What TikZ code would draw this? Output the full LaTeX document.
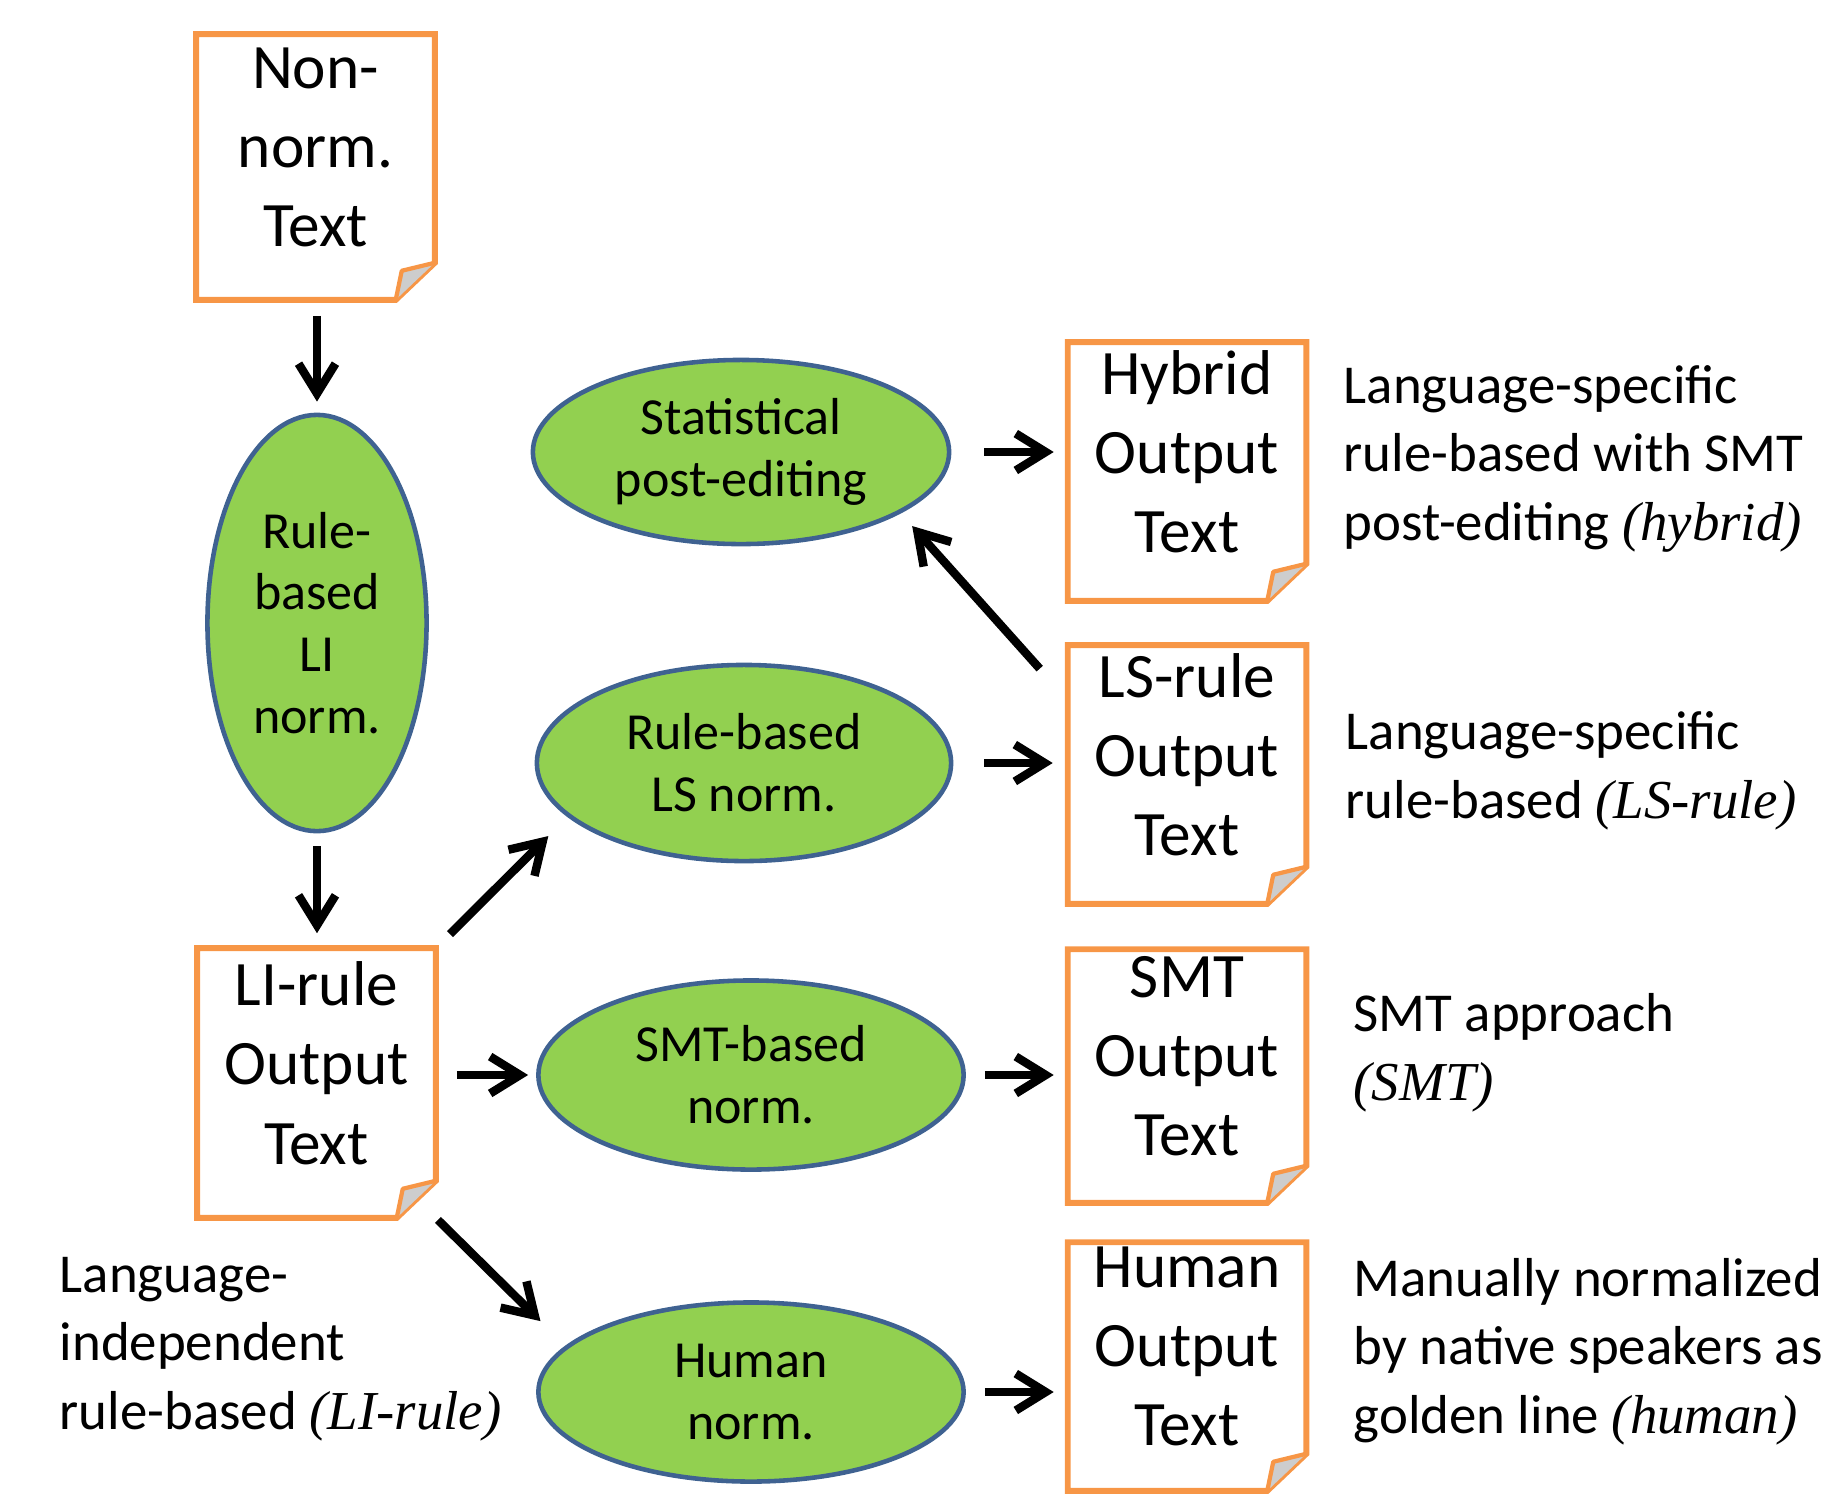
\documentclass[tikz,border=0pt]{standalone}
\usepackage{fontspec}
\setmainfont{Carlito}
\newfontfamily\timesit{Liberation Serif}
\usetikzlibrary{shapes.geometric, arrows.meta}
\definecolor{docorange}{RGB}{247, 150, 70}
\definecolor{normgreen}{RGB}{146, 208, 80}
\definecolor{normblue}{RGB}{63, 98, 145}
\definecolor{foldgray}{RGB}{205, 205, 205}
\tikzset{
  doc/.style={rectangle, minimum width=2.37cm, align=center, inner sep=0pt, text depth=0.4cm, font=\fontsize{18}{22.5}\selectfont},
  normell/.style={ellipse, draw=normblue, line width=1.3pt, fill=normgreen, inner sep=0pt, align=center, font=\fontsize{14.8}{17.6}\selectfont},
  arr/.style={line width=2.4pt, -{Straight Barb[length=8.5pt, width=10.5pt]}},
  note/.style={anchor=base west, align=left, inner sep=0pt, font=\fontsize{15.6}{19.4}\selectfont}
}

\begin{document}
\begin{tikzpicture}[x=0.01cm, y=-0.01cm]
  \useasboundingbox (0, 0) rectangle (1842, 1493);

  \node[doc, minimum height=2.64cm] (nonnorm) at (315.5, 167) {Non-\\norm.\\Text};
  \node[normell, minimum width=2.19cm, minimum height=4.16cm] (rlil) at (317, 623) {Rule-\\based\\LI\\norm.};
  \node[doc, minimum height=2.68cm] (lidoc) at (316.5, 1083) {LI-rule\\Output\\Text};

  \node[normell, minimum width=4.16cm, minimum height=1.84cm] (statpe) at (741, 452) {Statistical\\post-editing};
  \node[normell, minimum width=4.14cm, minimum height=1.96cm] (lsnorm) at (744, 763) {Rule-based\\LS norm.};
  \node[normell, minimum width=4.25cm, minimum height=1.89cm] (smtnorm) at (751, 1075) {SMT-based\\norm.};
  \node[normell, minimum width=4.25cm, minimum height=1.79cm] (humnorm) at (751, 1392) {Human\\norm.};

  \node[doc, minimum height=2.57cm] (hybdoc) at (1187, 471.5) {Hybrid\\Output\\Text};
  \node[doc, minimum height=2.57cm] (lsdoc) at (1187, 774.5) {LS-rule\\Output\\Text};
  \node[doc, minimum height=2.52cm] (smtdoc) at (1187, 1076) {SMT\\Output\\Text};
  \node[doc, minimum height=2.47cm] (humdoc) at (1187, 1366.5) {Human\\Output\\Text};

  \foreach \d in {nonnorm, lidoc, hybdoc, lsdoc, smtdoc, humdoc} {
    \draw[docorange, line width=1.7pt] (\d.north west) -- (\d.north east) -- ([yshift=0.37cm]\d.south east)
      -- ([xshift=-0.39cm]\d.south east) -- (\d.south west) -- cycle;
    \filldraw[fill=foldgray, draw=docorange, line width=1.2pt, line join=round] ([xshift=-0.39cm]\d.south east)
      -- ([xshift=-0.33cm, yshift=0.29cm]\d.south east) -- ([yshift=0.37cm]\d.south east);
  }

  \node[note] (hybnote) at (1343, 540) {Language-specific\\rule-based with SMT\\post-editing {\timesit\itshape (hybrid)}};
  \node[note] (lsnote) at (1345, 818) {Language-specific\\rule-based {\timesit\itshape (LS-rule)}};
  \node[note] (smtnote) at (1353, 1100) {SMT approach\\{\timesit\itshape (SMT)}};
  \node[note] (humnote) at (1353, 1433) {Manually normalized\\by native speakers as\\golden line {\timesit\itshape (human)}};
  \node[note] (linote) at (59, 1429) {Language-\\independent\\rule-based {\timesit\itshape (LI-rule)}};

  \draw[arr, shorten <=0.16cm, shorten >=0.11cm] (rlil.north |- nonnorm.south) -- (rlil.north);
  \draw[arr, shorten <=0.13cm, shorten >=0.15cm] (rlil.south) -- (rlil.south |- lidoc.north);
  \draw[arr, shorten <=0.2cm, shorten >=0.27cm] (lidoc.north east) -- (lsnorm.197);
  \draw[arr, shorten <=0.21cm, shorten >=0.08cm] (lidoc.east |- smtnorm.west) -- (smtnorm.west);
  \draw[arr, shorten <=0.03cm, shorten >=0.35cm] (lidoc.south east) -- (humnorm.166);
  \draw[arr, shorten <=0.33cm, shorten >=0.14cm] (statpe.east) -- (statpe.east -| hybdoc.west);
  \draw[arr, shorten <=0.31cm, shorten >=0.15cm] (lsnorm.east) -- (lsnorm.east -| lsdoc.west);
  \draw[arr, shorten <=0.19cm, shorten >=0.14cm] (smtnorm.east) -- (smtnorm.east -| smtdoc.west);
  \draw[arr, shorten <=0.19cm, shorten >=0.14cm] (humnorm.east) -- (humnorm.east -| humdoc.west);
  \draw[arr, shorten <=0.42cm, shorten >=0.17cm] (lsdoc.148) -- (statpe.339);
\end{tikzpicture}
\end{document}
